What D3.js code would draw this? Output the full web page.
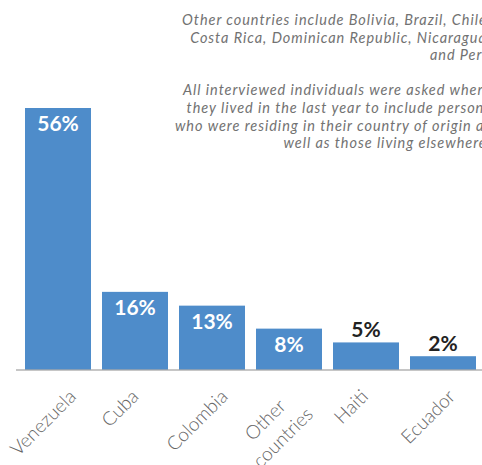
<!DOCTYPE html>
<html>
<head>
<meta charset="utf-8">
<script src="https://cdn.jsdelivr.net/npm/d3@7"></script>
<style>
  body { margin: 0; background: #fff; overflow: hidden; }
  svg { display: block; }
</style>
</head>
<body>
<svg id="chart" width="482" height="465"></svg>
<script>
// Share of respondents by country of origin
const categories = ["Venezuela", "Cuba", "Colombia", "Other countries", "Haiti", "Ecuador"];
const shares = [56, 16, 13, 8, 5, 2];
const valueLabels = ["56%", "16%", "13%", "8%", "5%", "2%"];

// Explanatory note, right aligned in the upper right corner
const noteParagraphs = [
  ["Other countries include Bolivia, Brazil, Chile,",
   "Costa Rica, Dominican Republic, Nicaragua,",
   "and Peru"],
  ["All interviewed individuals were asked where",
   "they lived in the last year to include persons",
   "who were residing in their country of origin as",
   "well as those living elsewhere."]
];

const W = 482, H = 465;
const baseY = 370, topY = 108;
const barColor = "#4e8cca";
const labelFont = "Lato, 'Open Sans', 'DejaVu Sans', sans-serif";

const svg = d3.select("#chart");

const x = d3.scaleBand()
  .domain(categories)
  .range([19.5, 481.5])
  .paddingInner(0.143)
  .paddingOuter(0.0715);

// The baseline sits a touch below zero so small bars stay visible
const y = d3.scaleLinear()
  .domain([-1, 56])
  .range([baseY, topY]);

const data = categories.map((c, i) => ({ name: c, value: shares[i], label: valueLabels[i] }));

// Note text: tracking chosen so the first line spans from x=183 to the right anchor
const noteRight = 491;
const noteLeft = 183;
const noteFs = 14.5;
const note = svg.append("g")
  .attr("font-family", labelFont)
  .attr("font-style", "italic")
  .attr("font-size", noteFs)
  .attr("fill", "#727272")
  .attr("text-anchor", "end");
const probeLine = noteParagraphs[0][0];
const probe = note.append("text").text(probeLine);
const tracking = Math.max(0, Math.min(1.2,
  ((noteRight - noteLeft) - probe.node().getComputedTextLength()) / (probeLine.length - 1)));
probe.remove();
note.attr("letter-spacing", tracking);

const noteLineGap = 17.6;
let lineIndex = 0;
noteParagraphs.forEach(para => {
  para.forEach(line => {
    note.append("text")
      .attr("x", noteRight)
      .attr("y", 25 + lineIndex * noteLineGap)
      .text(line);
    lineIndex++;
  });
  lineIndex++; // blank line between paragraphs
});

// Bars
svg.append("g")
  .selectAll("rect")
  .data(data)
  .join("rect")
  .attr("x", d => x(d.name))
  .attr("width", x.bandwidth())
  .attr("y", d => y(d.value))
  .attr("height", d => baseY - y(d.value))
  .attr("fill", barColor);

// Axis baseline
svg.append("line")
  .attr("x1", 16).attr("x2", W)
  .attr("y1", baseY).attr("y2", baseY)
  .attr("stroke", "#a8a8a8")
  .attr("stroke-opacity", 0.65)
  .attr("stroke-width", 2);

// Value labels: inside larger bars, above the small ones
const insideMin = 8;
svg.append("g")
  .attr("font-family", labelFont)
  .attr("font-weight", 700)
  .attr("font-size", 21)
  .attr("text-anchor", "middle")
  .selectAll("text")
  .data(data)
  .join("text")
  .attr("x", d => x(d.name) + x.bandwidth() / 2)
  .attr("y", d => d.value >= insideMin ? y(d.value) + 23 : y(d.value) - 5)
  .attr("fill", d => d.value >= insideMin ? "#ffffff" : "#222222")
  .text(d => d.label);

// Rotated category labels under the axis
const catFs = 19;
const catGap = 25;
const catTop = 388;
const cats = svg.append("g")
  .attr("font-family", labelFont)
  .attr("font-weight", 300)
  .attr("font-size", catFs)
  .attr("fill", "#666666");

data.forEach(d => {
  const words = d.name.split(" ");
  const lines = words.length > 1 ? words : [d.name];
  const g = cats.append("g");
  const t = g.append("text").attr("text-anchor", "middle");
  const n = lines.length;
  lines.forEach((ln, i) => {
    t.append("tspan")
      .attr("x", 0)
      .attr("y", (i - (n - 1) / 2) * catGap + catFs * 0.35)
      .text(ln);
  });
  let L = 0;
  t.selectAll("tspan").each(function () { L = Math.max(L, this.getComputedTextLength()); });
  const blockH = catFs * 0.75 + (n - 1) * catGap;
  const cx = x(d.name) + x.bandwidth() / 2 - 15;
  const cy = catTop + (L + blockH) * Math.SQRT1_2 / 2;
  g.attr("transform", `translate(${cx},${cy}) rotate(-45)`);
});
</script>
</body>
</html>
